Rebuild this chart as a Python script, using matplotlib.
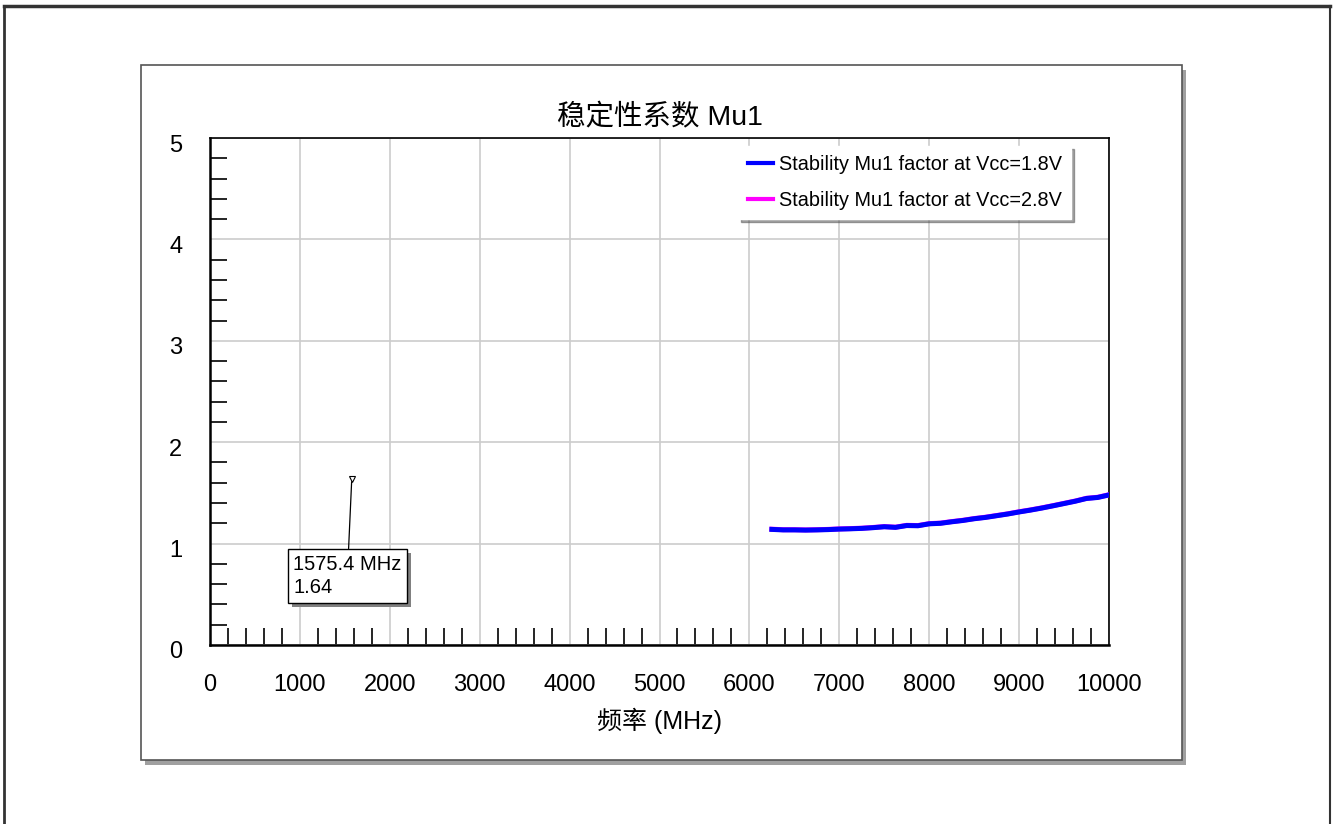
import numpy as np
import matplotlib
matplotlib.use("Agg")
import matplotlib.pyplot as plt
from matplotlib.patches import Rectangle
from matplotlib.lines import Line2D
import matplotlib.patheffects as pe
import matplotlib.transforms as mtransforms
from matplotlib.ticker import MultipleLocator

plt.rcParams['font.family'] = ['Liberation Sans', 'Noto Sans CJK SC', 'DejaVu Sans']

# frequency sweep (MHz) and Mu1 values
freq = [6250, 6375, 6500, 6625, 6750, 6875, 7000, 7125, 7250, 7375,
        7500, 7625, 7750, 7875, 8000, 8125, 8250, 8375, 8500, 8625,
        8750, 8875, 9000, 9125, 9250, 9375, 9500, 9625, 9750, 9875, 10000]
mu1_18v = [1.140, 1.135, 1.135, 1.133, 1.135, 1.138, 1.143, 1.146, 1.150, 1.157,
           1.166, 1.160, 1.178, 1.176, 1.195, 1.200, 1.215, 1.228, 1.245, 1.258,
           1.275, 1.292, 1.312, 1.330, 1.350, 1.372, 1.395, 1.418, 1.445, 1.455, 1.480]
mu1_28v = [1.142, 1.137, 1.137, 1.135, 1.137, 1.140, 1.145, 1.148, 1.152, 1.159,
           1.168, 1.162, 1.180, 1.178, 1.197, 1.202, 1.217, 1.230, 1.247, 1.260,
           1.277, 1.294, 1.314, 1.332, 1.352, 1.374, 1.397, 1.420, 1.447, 1.457, 1.482]

marker_freq = 1575.4
marker_val = 1.64

W, H = 1333, 824
fig = plt.figure(figsize=(W / 100, H / 100), dpi=100)

# outer frame (no bottom edge visible)
fig.add_artist(Line2D([4 / W, 4 / W], [0, 1 - 6 / H], color='#333333', lw=2))
fig.add_artist(Line2D([4 / W, 1330 / W], [1 - 6 / H, 1 - 6 / H], color='#333333', lw=2.5))
fig.add_artist(Line2D([1330 / W, 1330 / W], [0, 1 - 6 / H], color='#333333', lw=1.5))

# inner panel with shadow
px0, py0, px1, py1 = 141, 65, 1182, 760
fig.add_artist(Rectangle((px0 / W + 4 / W, 1 - (py1 + 5) / H), (px1 - px0) / W, (py1 - py0) / H,
                         transform=fig.transFigure, fc='#a0a0a0', ec='none', zorder=0))
fig.add_artist(Rectangle((px0 / W, 1 - py1 / H), (px1 - px0) / W, (py1 - py0) / H,
                         transform=fig.transFigure, fc='white', ec='#555555', lw=1.2, zorder=0.5))

ax = fig.add_axes([210 / W, 1 - 645 / H, (1109 - 210) / W, (645 - 138) / H])
ax.set_zorder(2)

ax.plot(freq, mu1_28v, color='#ff00ff', lw=3.6, label='Stability Mu1 factor at Vcc=2.8V', zorder=3)
ax.plot(freq, mu1_18v, color='#0000ff', lw=3.6, label='Stability Mu1 factor at Vcc=1.8V', zorder=4)

ax.set_xlim(0, 10000)
ax.set_ylim(0, 5)
ax.xaxis.set_major_locator(MultipleLocator(1000))
ax.xaxis.set_minor_locator(MultipleLocator(200))
ax.yaxis.set_major_locator(MultipleLocator(1))
ax.yaxis.set_minor_locator(MultipleLocator(0.2))
ax.tick_params(which='major', length=0, labelsize=17)
ax.tick_params(axis='x', which='major', pad=21)
ax.tick_params(axis='y', which='major', pad=20)
ax.tick_params(which='minor', direction='in', length=12, width=1.2, color='black')
ax.grid(True, which='major', color='#cccccc', lw=1.2)
ax.set_axisbelow(True)
for side in ['left', 'bottom']:
    ax.spines[side].set_linewidth(1.8)
for side in ['top', 'right']:
    ax.spines[side].set_linewidth(1.2)

# y tick labels sit a few pixels below their gridline in the original
shift = mtransforms.ScaledTranslation(0, -5 / 100, fig.dpi_scale_trans)
for lbl in ax.get_yticklabels():
    lbl.set_transform(lbl.get_transform() + shift)

ax.set_title('稳定性系数 Mu1', fontsize=20.5, pad=9)
ax.set_xlabel('频率 (MHz)', fontsize=18, labelpad=8)

# legend: 1.8V first, no frame edge, drop shadow
handles, labels = ax.get_legend_handles_labels()
leg = ax.legend(handles[::-1], labels[::-1], loc='upper right', bbox_to_anchor=(0.958, 0.984),
                fontsize=14.3, frameon=True, fancybox=False, shadow=True, framealpha=1,
                edgecolor='white', handlelength=1.3, handletextpad=0.3, borderpad=0.45,
                borderaxespad=0, labelspacing=0.85)
for line in leg.get_lines():
    line.set_linewidth(3)

# marker readout
ax.plot([marker_freq], [marker_val], marker='v', ms=5, mfc='white', mec='black', mew=0.8,
        ls='none', zorder=5)
ann = ax.annotate(f'{marker_freq} MHz\n{marker_val}', xy=(marker_freq, marker_val - 0.03),
                  xytext=(925, 0.89), textcoords='data', ha='left', va='top', fontsize=14.5,
                  linespacing=1.3,
                  bbox=dict(boxstyle='square,pad=0.28', fc='white', ec='black', lw=1),
                  arrowprops=dict(arrowstyle='-', color='black', lw=0.9, shrinkA=0, shrinkB=0),
                  zorder=6)
ann.get_bbox_patch().set_path_effects([
    pe.SimplePatchShadow(offset=(3, -3), shadow_rgbFace='#808080', alpha=1), pe.Normal()])

fig.savefig('out.png', dpi=100)
